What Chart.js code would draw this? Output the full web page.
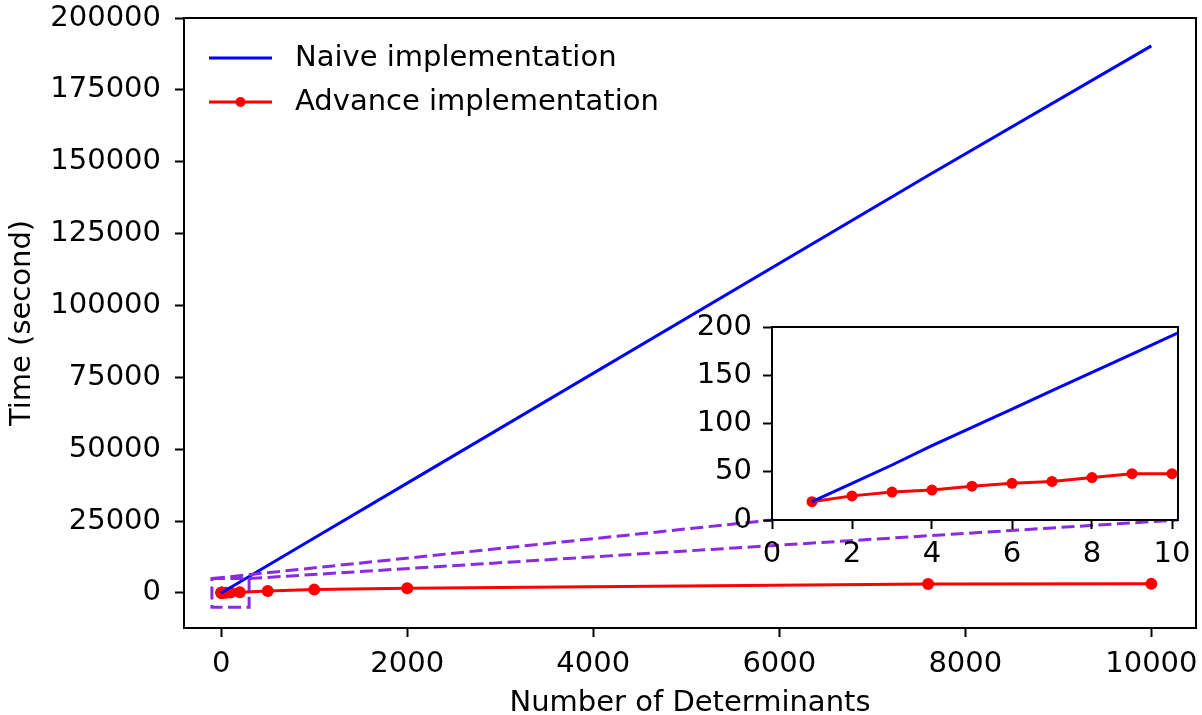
<!DOCTYPE html>
<html>
<head>
<meta charset="utf-8">
<script src="https://cdn.jsdelivr.net/npm/chart.js@4.4.0/dist/chart.umd.min.js"></script>
<style>
  html, body { margin: 0; padding: 0; background: #fff; }
  #wrap { position: relative; width: 1202px; height: 715px; }
  #mainChart { position: absolute; left: 0; top: 0; }
  #insetChart { position: absolute; left: 680px; top: 300px; }
</style>
</head>
<body>
<div id="wrap">
  <canvas id="mainChart" width="1202" height="715"></canvas>
  <canvas id="insetChart" width="522" height="280"></canvas>
</div>
<script>
// values
const determinants = [1, 2, 3, 4, 5, 6, 7, 8, 9, 10, 50, 100, 200, 500, 1000, 2000, 7600, 10000];
const naiveTime = [19, 38, 57, 77, 96, 115, 134, 153, 172, 191, 955, 1910, 3820, 9550, 19100, 38200, 145200, 190300];
const advanceTime = [19, 25, 29, 31, 35, 38, 40, 44, 48, 48, 80, 130, 250, 700, 1150, 1640, 3130, 3150];

const mainXTicks = [0, 2000, 4000, 6000, 8000, 10000];
const mainYTicks = [0, 25000, 50000, 75000, 100000, 125000, 150000, 175000, 200000];
const insetXTicks = [0, 2, 4, 6, 8, 10];
const insetYTicks = [0, 50, 100, 150, 200];

// zoomed region marked on the main axes
const zoomBoxX = [-100, 300];
const zoomBoxY = [-5000, 5000];

const BLUE = '#0000ff';
const RED = '#ff0000';
const PURPLE = '#8a2be2';
const FONT = 'DejaVu Sans';

Chart.defaults.font.family = FONT;
Chart.defaults.font.size = 29;
Chart.defaults.color = '#000';

function points(ys) {
  return determinants.map((d, i) => ({x: d, y: ys[i]}));
}

function makeDatasets(r) {
  return [{
    label: 'Naive implementation',
    data: points(naiveTime),
    showLine: true,
    borderColor: BLUE,
    backgroundColor: BLUE,
    borderWidth: 3,
    pointRadius: 0
  }, {
    label: 'Advance implementation',
    data: points(advanceTime),
    showLine: true,
    borderColor: RED,
    backgroundColor: RED,
    borderWidth: 3,
    pointRadius: r,
    pointBorderWidth: 0,
    pointBackgroundColor: RED
  }];
}

function axis(ticks, min, max, size, pad, title) {
  const horizontal = size.h !== undefined;
  return {
    type: 'linear',
    min: min,
    max: max,
    afterBuildTicks: s => { s.ticks = ticks.map(v => ({value: v})); },
    afterFit: s => {
      if (horizontal) s.height = size.h; else s.width = size.w;
      s.paddingLeft = s.paddingRight = s.paddingTop = s.paddingBottom = 0;
    },
    border: {display: false},
    grid: {drawOnChartArea: false, drawTicks: true, tickLength: 9, tickWidth: 2, color: '#000'},
    ticks: {autoSkip: false, maxRotation: 0, padding: pad, color: '#000', callback: v => String(v)},
    title: title
  };
}

const frame = {
  id: 'frame',
  beforeDraw(chart) {
    const a = chart.chartArea, ctx = chart.ctx;
    ctx.save();
    ctx.fillStyle = '#fff';
    ctx.fillRect(a.left, a.top, a.right - a.left, a.bottom - a.top);
    ctx.restore();
  },
  afterDraw(chart) {
    const a = chart.chartArea, ctx = chart.ctx;
    ctx.save();
    ctx.strokeStyle = '#000';
    ctx.lineWidth = 2;
    ctx.strokeRect(a.left, a.top, a.right - a.left, a.bottom - a.top);
    ctx.restore();
  }
};

// inset first so the main chart can aim its connector lines at it
const insetCanvas = document.getElementById('insetChart');
const insetChart = new Chart(insetCanvas, {
  type: 'scatter',
  data: {datasets: makeDatasets(5.5)},
  options: {
    responsive: false,
    animation: false,
    devicePixelRatio: 1,
    layout: {padding: {top: 27, right: 24, left: 0, bottom: 0}},
    plugins: {legend: {display: false}, tooltip: {enabled: false}},
    scales: {
      x: axis(insetXTicks, 0, 10.15, {h: 60}, 8, {display: false}),
      y: axis(insetYTicks, 0, 200, {w: 92}, 11, {display: false})
    }
  },
  plugins: [frame]
});

const zoomMark = {
  id: 'zoomMark',
  afterDatasetsDraw(chart) {
    const ctx = chart.ctx, x = chart.scales.x, y = chart.scales.y;
    const x0 = x.getPixelForValue(zoomBoxX[0]), x1 = x.getPixelForValue(zoomBoxX[1]);
    const yt = y.getPixelForValue(zoomBoxY[1]), yb = y.getPixelForValue(zoomBoxY[0]);
    const ia = insetChart.chartArea;
    const ox = insetCanvas.offsetLeft, oy = insetCanvas.offsetTop;
    ctx.save();
    ctx.strokeStyle = PURPLE;
    ctx.lineWidth = 3;
    ctx.setLineDash([13, 5.5]);
    ctx.strokeRect(x0, yt, x1 - x0, yb - yt);
    ctx.beginPath();
    ctx.moveTo(x0, yt);
    ctx.lineTo(ox + ia.left, oy + ia.bottom);
    ctx.moveTo(x1, yt);
    ctx.lineTo(ox + ia.right, oy + ia.bottom);
    ctx.stroke();
    ctx.restore();
  }
};

const insideLegend = {
  id: 'insideLegend',
  afterDraw(chart) {
    const ctx = chart.ctx, a = chart.chartArea;
    ctx.save();
    chart.data.datasets.forEach((ds, i) => {
      const yy = a.top + 40 + i * 44;
      const lx0 = a.left + 25, lx1 = a.left + 88;
      ctx.strokeStyle = ds.borderColor;
      ctx.lineWidth = ds.borderWidth;
      ctx.beginPath();
      ctx.moveTo(lx0, yy);
      ctx.lineTo(lx1, yy);
      ctx.stroke();
      if (ds.pointRadius > 0) {
        ctx.fillStyle = ds.pointBackgroundColor;
        ctx.beginPath();
        ctx.arc((lx0 + lx1) / 2, yy, 5, 0, Math.PI * 2);
        ctx.fill();
      }
      ctx.fillStyle = '#000';
      ctx.font = '29px "' + FONT + '"';
      ctx.textBaseline = 'middle';
      ctx.textAlign = 'left';
      ctx.fillText(ds.label, a.left + 111, yy);
    });
    ctx.restore();
  }
};

const mainChart = new Chart(document.getElementById('mainChart'), {
  type: 'scatter',
  data: {datasets: makeDatasets(6)},
  options: {
    responsive: false,
    animation: false,
    devicePixelRatio: 1,
    layout: {padding: {top: 18, right: 3, left: 0, bottom: 0}},
    plugins: {legend: {display: false}, tooltip: {enabled: false}},
    scales: {
      x: axis(mainXTicks, -400, 10480, {h: 87}, 10,
        {display: true, text: 'Number of Determinants', color: '#000', font: {size: 29, lineHeight: 0.8}, padding: 0}),
      y: axis(mainYTicks, -12200, 200000, {w: 184}, 14,
        {display: true, text: 'Time (second)', color: '#000', font: {size: 29, lineHeight: 1}, padding: {top: 8, bottom: 0}})
    }
  },
  plugins: [frame, zoomMark, insideLegend]
});
</script>
</body>
</html>
